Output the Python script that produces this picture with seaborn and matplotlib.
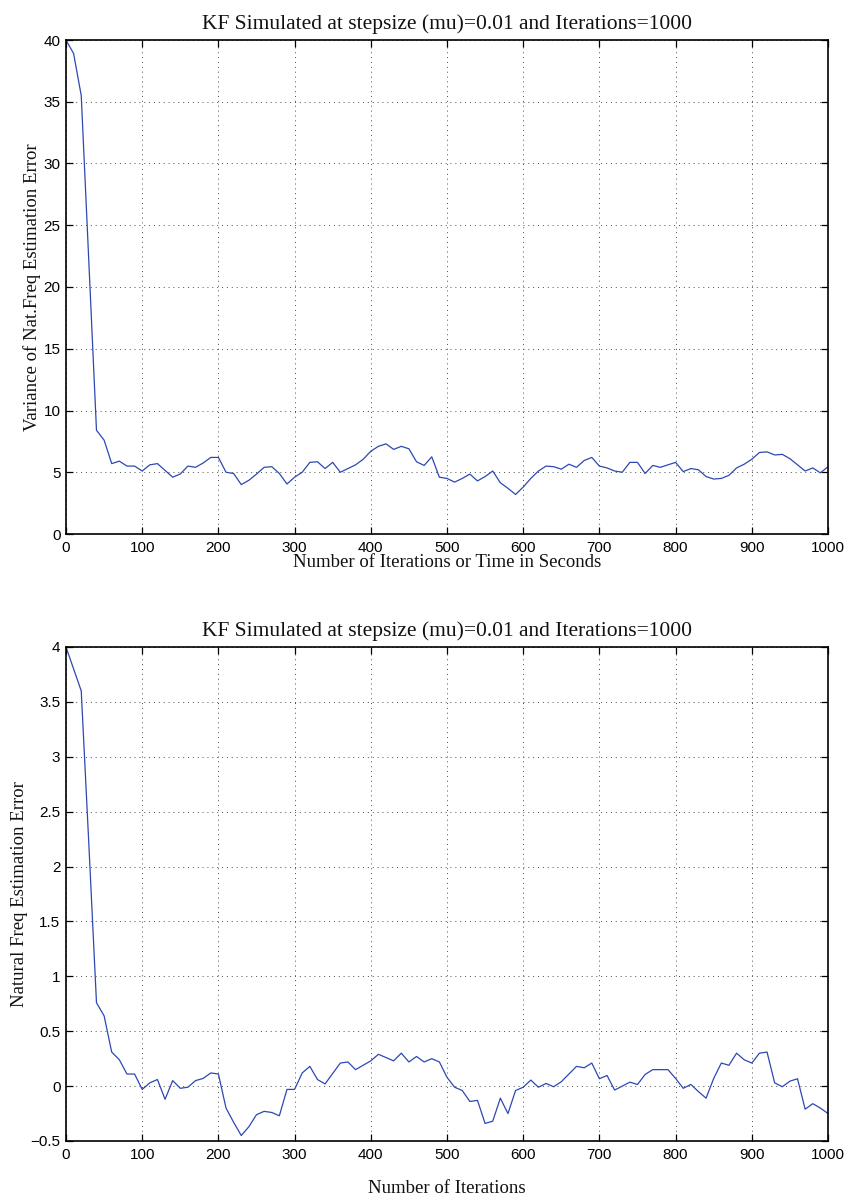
import numpy as np
import pandas as pd
import matplotlib
matplotlib.use("Agg")
import matplotlib.pyplot as plt
import seaborn as sns

# ---------------- data ----------------
iterations = list(range(0, 1001, 10))

variance_err = [
    40.0, 38.9, 35.5, 22.0, 8.4, 7.6, 5.7, 5.9, 5.5, 5.5,
    5.1, 5.6, 5.7, 5.15, 4.6, 4.86, 5.5, 5.4, 5.75, 6.2,
    6.2, 5.0, 4.9, 4.0, 4.35, 4.85, 5.4, 5.45, 4.9, 4.05,
    4.6, 5.0, 5.8, 5.85, 5.3, 5.8, 5.0, 5.3, 5.6, 6.05,
    6.7, 7.1, 7.3, 6.85, 7.1, 6.9, 5.85, 5.55, 6.25, 4.6,
    4.5, 4.2, 4.5, 4.85, 4.3, 4.65, 5.1, 4.15, 3.7, 3.2,
    3.8, 4.5, 5.1, 5.5, 5.45, 5.25, 5.65, 5.4, 5.95, 6.2,
    5.5, 5.35, 5.1, 5.0, 5.8, 5.8, 4.9, 5.55, 5.4, 5.6,
    5.8, 5.05, 5.3, 5.2, 4.65, 4.45, 4.5, 4.75, 5.35, 5.65,
    6.05, 6.6, 6.65, 6.4, 6.45, 6.1, 5.6, 5.1, 5.35, 4.95,
    5.45,
]

natfreq_err = [
    4.0, 3.8, 3.6, 2.2, 0.76, 0.64, 0.31, 0.24, 0.11, 0.11,
    -0.03, 0.03, 0.06, -0.12, 0.05, -0.02, -0.01, 0.05, 0.07, 0.12,
    0.11, -0.2, -0.33, -0.45, -0.37, -0.26, -0.23, -0.24, -0.27, -0.03,
    -0.03, 0.12, 0.18, 0.06, 0.02, 0.115, 0.21, 0.22, 0.15, 0.19,
    0.23, 0.29, 0.26, 0.23, 0.30, 0.22, 0.27, 0.22, 0.25, 0.22,
    0.08, -0.01, -0.04, -0.14, -0.13, -0.34, -0.32, -0.11, -0.25, -0.04,
    -0.01, 0.055, -0.01, 0.024, -0.006, 0.04, 0.11, 0.18, 0.167, 0.21,
    0.067, 0.097, -0.036, 0.0, 0.036, 0.015, 0.106, 0.15, 0.15, 0.15,
    0.07, -0.02, 0.015, -0.05, -0.11, 0.07, 0.21, 0.19, 0.30, 0.24,
    0.21, 0.30, 0.31, 0.03, -0.006, 0.045, 0.067, -0.21, -0.16, -0.2,
    -0.25,
]

title_text = "KF Simulated at stepsize (mu)=0.01 and Iterations=1000"
xticks = [0, 100, 200, 300, 400, 500, 600, 700, 800, 900, 1000]
yticks_top = [0, 5, 10, 15, 20, 25, 30, 35, 40]
yticks_bot = [-0.5, 0, 0.5, 1, 1.5, 2, 2.5, 3, 3.5, 4]

# ---------------- style ----------------
sns.set_theme(style="white")
plt.rcParams["font.family"] = ["Liberation Sans", "DejaVu Sans"]
plt.rcParams["axes.unicode_minus"] = True

W, H = 845, 1196
fig = plt.figure(figsize=(W / 100, H / 100), dpi=100)
fig.patch.set_facecolor("white")

left = 66 / W
width = (828 - 66) / W
ax_h = 494 / H
ax1 = fig.add_axes([left, 1 - 534 / H, width, ax_h])
ax2 = fig.add_axes([left, 1 - 1141 / H, width, ax_h])

df1 = pd.DataFrame({"it": iterations, "v": variance_err})
df2 = pd.DataFrame({"it": iterations, "v": natfreq_err})

line_color = "#2d48b2"
sns.lineplot(data=df1, x="it", y="v", ax=ax1, color=line_color, linewidth=0.9)
sns.lineplot(data=df2, x="it", y="v", ax=ax2, color=line_color, linewidth=0.9)

serif = ["Liberation Serif", "DejaVu Serif"]

def style_axes(ax, yticks, ylim, ylabel, xlabel, xpad):
    ax.set_xlim(0, 1000)
    ax.set_ylim(*ylim)
    ax.set_xticks(xticks)
    ax.set_yticks(yticks)
    ax.set_yticklabels([("%g" % t).replace("-", "\u2212") for t in yticks])
    ax.grid(True, color="0.3", linestyle=(0, (1, 4)), linewidth=0.7)
    for s in ax.spines.values():
        s.set_visible(True)
        s.set_color("black")
        s.set_linewidth(1.2)
    ax.tick_params(direction="in", length=5, width=0.9, top=True, right=True,
                   bottom=True, left=True, labelsize=11, colors="black")
    ax.tick_params(axis="x", pad=5)
    ax.tick_params(axis="y", pad=4)
    ax.set_title(title_text, fontsize=15.5, family=serif, pad=8, color="#111111")
    ax.set_ylabel(ylabel, fontsize=13.5, family=serif, color="#111111", labelpad=2)
    ax.set_xlabel(xlabel, fontsize=13.5, family=serif, color="#111111", labelpad=xpad)
    for lab in ax.get_xticklabels() + ax.get_yticklabels():
        lab.set_family(["Liberation Sans", "DejaVu Sans"])

style_axes(ax1, yticks_top, (0, 40), "Variance of Nat.Freq Estimation Error",
           "Number of Iterations or Time in Seconds", -1)
style_axes(ax2, yticks_bot, (-0.5, 4), "Natural Freq Estimation Error",
           "Number of Iterations", 13)

fig.savefig("out.png", dpi=100, facecolor="white")
